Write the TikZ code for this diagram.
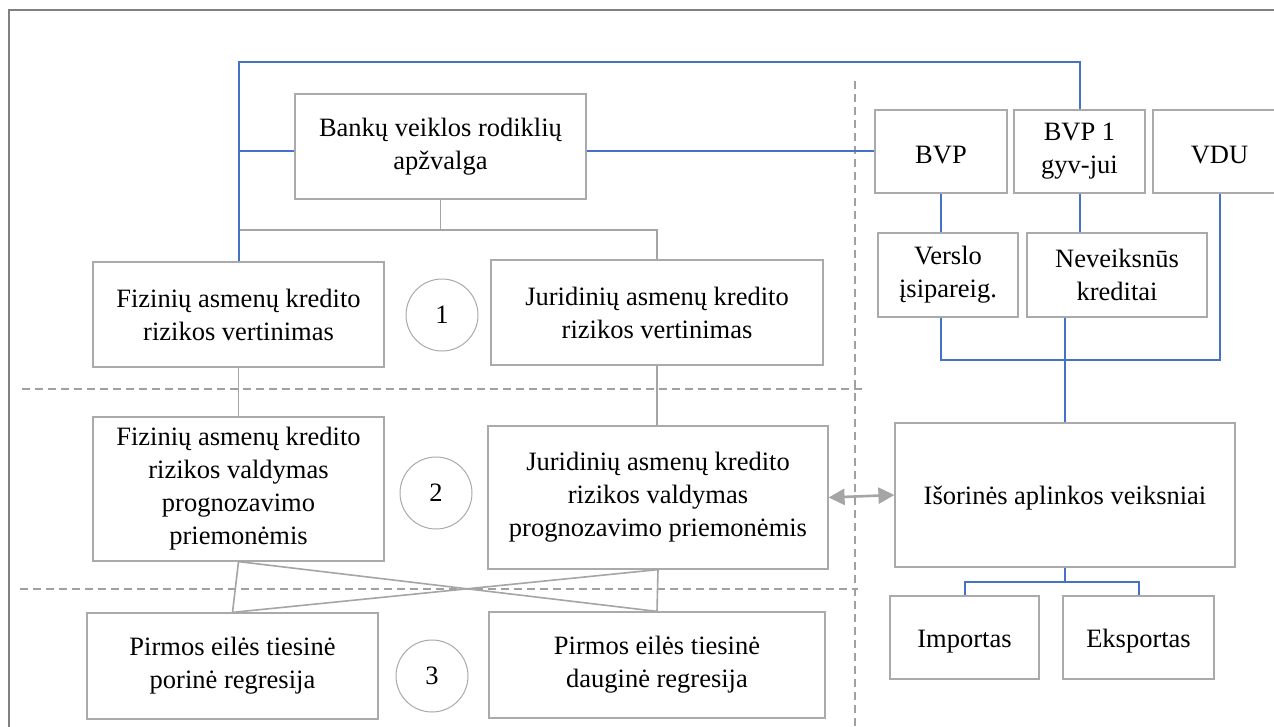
\documentclass[tikz,border=0pt]{standalone}
\usepackage{fontspec}
\setmainfont{Liberation Serif}
\usetikzlibrary{arrows.meta}
\definecolor{boxgray}{RGB}{170,170,170}
\definecolor{linegray}{RGB}{165,165,165}
\definecolor{dashgray}{RGB}{160,160,160}
\definecolor{framegray}{RGB}{128,128,128}
\definecolor{wordblue}{RGB}{68,114,196}
\tikzset{
  box/.style={draw=boxgray, line width=1.2pt, fill=white, align=center, inner sep=0pt,
    font=\fontsize{26.5}{33}\selectfont, text=black,
    execute at begin node={\rule{0pt}{25pt}}},
  numcircle/.style={draw=boxgray, line width=1pt, circle, minimum size=72pt, inner sep=0pt,
    font=\fontsize{26.5}{33}\selectfont},
  blueline/.style={draw=wordblue, line width=2pt},
  grayline/.style={draw=linegray, line width=1.6pt},
  divider/.style={draw=dashgray, line width=1.6pt, dash pattern=on 8pt off 5pt},
  twoway/.style={draw=linegray, line width=2.6pt, {Triangle[length=16pt,width=16pt]}-{Triangle[length=16pt,width=16pt]}},
}
\begin{document}
\begin{tikzpicture}[x=1pt,y=-1pt]
\useasboundingbox (0,0) rectangle (1274,726);
\clip (0,0) rectangle (1274,726);
\fill[white] (0,0) rectangle (1274,726);
\draw[framegray, line width=2pt] (9,9.5) rectangle (1295,745);

% dividers
\draw[divider] (855,81) -- (855,740);
\draw[divider] (22,389) -- (863,389);
\draw[divider] (20,589) -- (858,589);

% boxes
\node[box, minimum width=291pt, minimum height=105pt] (bank) at (440.5,146.5) {Bankų veiklos rodiklių\\apžvalga};
\node[box, minimum width=291pt, minimum height=105pt] (fiz1) at (238.5,314.5) {Fizinių asmenų kredito\\rizikos vertinimas};
\node[box, minimum width=332pt, minimum height=105pt] (jur1) at (657,312.5) {Juridinių asmenų kredito\\rizikos vertinimas};
\node[box, minimum width=291pt, minimum height=144pt] (fiz2) at (238.5,489) {Fizinių asmenų kredito\\rizikos valdymas\\prognozavimo\\priemonėmis};
\node[box, minimum width=340pt, minimum height=143pt] (jur2) at (658,497.5) {Juridinių asmenų kredito\\rizikos valdymas\\prognozavimo priemonėmis};
\node[box, minimum width=291pt, minimum height=106pt] (pir1) at (232.5,666) {Pirmos eilės tiesinė\\porinė regresija};
\node[box, minimum width=336pt, minimum height=106pt] (pir2) at (657,665) {Pirmos eilės tiesinė\\dauginė regresija};

\node[box, minimum width=132pt, minimum height=83pt] (bvp) at (941,151.5) {BVP};
\node[box, minimum width=131pt, minimum height=83pt] (bvp1) at (1079.5,151.5) {BVP 1\\gyv-jui};
\node[box, minimum width=133pt, minimum height=83pt] (vdu) at (1219.5,151.5) {VDU};
\node[box, minimum width=140pt, minimum height=84pt] (verslo) at (948,275) {Verslo\\įsipareig.};
\node[box, minimum width=180pt, minimum height=84pt] (nev) at (1117,275) {Neveiksnūs\\kreditai};
\node[box, minimum width=340pt, minimum height=144pt] (isor) at (1065,495) {Išorinės aplinkos veiksniai};
\node[box, minimum width=149pt, minimum height=83pt] (imp) at (964.5,637.5) {Importas};
\node[box, minimum width=151pt, minimum height=83pt] (eks) at (1138.5,637.5) {Eksportas};

\node[numcircle] (c1) at (442,315) {1};
\node[numcircle] (c2) at (436,493) {2};
\node[numcircle] (c3) at (432,676) {3};

% rails
\coordinate (toprail) at (0,62);
\coordinate (midrail) at (0,151);
\coordinate (grayrail) at (0,230);
\coordinate (rightrail) at (0,360);
\coordinate (botrail) at (0,582);

% gray connectors
\draw[grayline] (bank.south) -- (bank.south |- grayrail);
\draw[grayline] (fiz1.north |- grayrail) -| (jur1.north);
\draw[grayline] (fiz1.south) -- (fiz2.north);
\draw[grayline] (jur1.south) -- (jur1.south |- jur2.north);
\draw[grayline] (fiz2.south) -- (pir1.north);
\draw[grayline] (fiz2.south) -- (pir2.north);
\draw[grayline] (jur2.south) -- (pir1.north);
\draw[grayline] (jur2.south) -- (pir2.north);

% blue connectors
\draw[blueline] (fiz1.north) -- (fiz1.north |- toprail) -| (bvp1.north);
\draw[blueline] (fiz1.north |- midrail) -- (bank.west |- midrail);
\draw[blueline] (bank.east |- midrail) -- (bvp.west |- midrail);
\draw[blueline] (bvp.south) -- (bvp.south |- verslo.north);
\draw[blueline] (bvp1.south) -- (bvp1.south |- nev.north);
\draw[blueline] (bvp.south |- verslo.south) -- (bvp.south |- rightrail) -- (vdu.south |- rightrail) -- (vdu.south);
\draw[blueline] (isor.north |- nev.south) -- (isor.north);
\draw[blueline] (isor.south) -- (isor.south |- botrail);
\draw[blueline] (imp.north) |- (eks.north |- botrail) -- (eks.north);

% two-way arrow
\draw[twoway] (jur2.east) -- (isor.west);
\end{tikzpicture}
\end{document}
